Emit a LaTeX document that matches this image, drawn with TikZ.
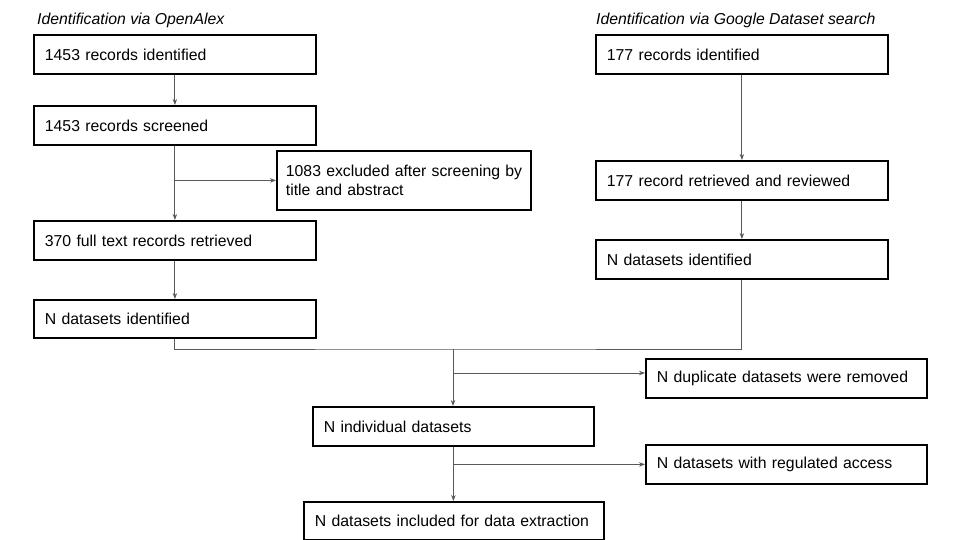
\documentclass[tikz,border=0pt]{standalone}
\usepackage{fontspec}
\setmainfont{Liberation Sans}
\usetikzlibrary{arrows.meta}
\begin{document}
\begin{tikzpicture}[x=1pt,y=-1pt,
  box/.style={draw=black, line width=1.8pt, anchor=north west, align=left,
    inner xsep=11pt, inner ysep=0pt, font=\fontsize{15.8}{18.5}\selectfont, text=black},
  line/.style={draw=black!65, line width=1pt},
  arr/.style={line, -{Stealth[length=6pt,width=4.5pt]}},
  title/.style={anchor=base west, inner sep=0pt, font=\fontsize{15.8}{18.5}\selectfont\itshape}]
\useasboundingbox[fill=white] (0,0) rectangle (960,540);
% titles
\node[title] (t1) at (37,25) {Identification via OpenAlex};
\node[title] (t2) at (596,25) {Identification via Google Dataset search};
% left column
\node[box, text width=260pt, minimum height=39pt] (A) at (33,34) {1453 records identified};
\node[box, text width=260pt, minimum height=39pt] (B) at (33,105) {1453 records screened};
\node[box, text width=236pt, inner xsep=9pt, minimum height=59pt] (C) at (276,150) {\mbox{1083 excluded after screening by}\\title and abstract};
\node[box, text width=260pt, minimum height=39pt] (D) at (33,220) {370 full text records retrieved};
\node[box, text width=260pt, minimum height=38pt] (E) at (33,299) {N datasets identified};
% right column
\node[box, text width=270pt, minimum height=39pt] (F) at (595,34) {177 records identified};
\node[box, text width=270pt, minimum height=39pt] (G) at (595,160) {177 record retrieved and reviewed};
\node[box, text width=270pt, minimum height=39pt] (H) at (595,239) {N datasets identified};
% bottom
\node[box, text width=259pt, minimum height=39pt] (I) at (645,358) {N duplicate datasets were removed};
\node[box, text width=259pt, minimum height=39pt] (J) at (312,406) {N individual datasets};
\node[box, text width=259pt, minimum height=39pt] (K) at (645,444) {N datasets with regulated access};
\node[box, text width=278pt, minimum height=38pt] (L) at (303,501) {N datasets included for data extraction};
% connectors
\draw[arr] (A.south) -- (B.north);
\draw[arr] (B.south) -- (D.north);
\draw[arr] (B.south |- C.west) -- (C.west);
\draw[arr] (D.south) -- (E.north);
\draw[arr] (F.south) -- (G.north);
\draw[arr] (G.south) -- (H.north);
\coordinate (m) at (453,349);
\coordinate (bi) at (453,373);
\draw[line] (E.south) |- (m) -| (H.south);
\draw[arr] (m) -- (m |- J.north);
\draw[arr] (bi) -- (bi -| I.west);
\draw[arr] (J.south) -- (J.south |- L.north);
\draw[arr] (J.south |- K.west) -- (K.west);
\end{tikzpicture}
\end{document}
